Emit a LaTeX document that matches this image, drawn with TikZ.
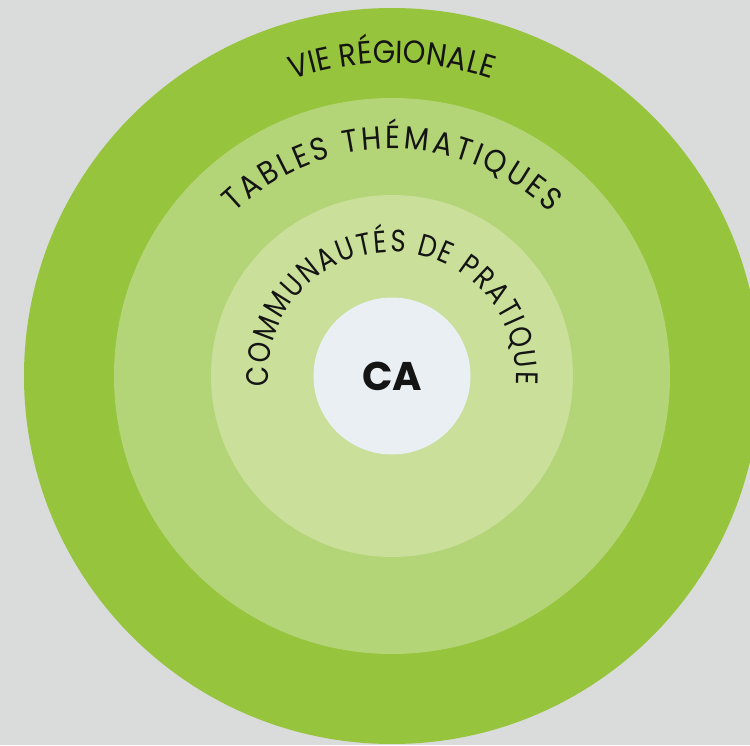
\documentclass[tikz,border=0pt]{standalone}
\usepackage{fontspec}
\setmainfont{Poppins}
\newfontfamily\ringfamily[FakeStretch=0.9]{Poppins}
\newfontfamily\commfamily[FakeStretch=0.84]{Poppins}
\usetikzlibrary{decorations.text}
\definecolor{bggrey}{HTML}{DADBDB}
\definecolor{vievert}{HTML}{97C43D}
\definecolor{tablevert}{HTML}{B3D477}
\definecolor{commvert}{HTML}{CAE09A}
\definecolor{cablanc}{HTML}{EAEFF3}
\definecolor{encre}{HTML}{141414}
\newcommand{\ringfont}{\ringfamily\fontsize{32}{34}\selectfont\color{encre}}
\newcommand{\commfont}{\commfamily\fontsize{31}{34}\selectfont\color{encre}}
\tikzstyle{ring}=[circle, draw=none, inner sep=0, outer sep=0]
\tikzset{ringtext/.style 2 args={decorate, decoration={text along path, text align=fit to path, text={|#1|#2}}}}

\begin{document}
\begin{tikzpicture}[x=1pt, y=1pt]
        \clip (-392, -369) rectangle (358, 376);
        \fill[bggrey] (-392, -369) rectangle (358, 376);
        % concentric rings
        \node[ring, fill=vievert, minimum size=736pt] (vie) at (0, 0) {};
        \node[ring, fill=tablevert, minimum size=556pt] (tables) at (0, 0) {};
        \node[ring, fill=commvert, minimum size=362pt] (comm) at (0, 0) {};
        \node[ring, fill=cablanc, minimum size=157pt] (centre) at (0, 0) {};
        \node[font=\bfseries\fontsize{40}{40}\selectfont, text=encre] (ca) at (centre) {CA};
        % curved labels
        \path[ringtext={\ringfont}{VIE RÉGIONALE}] (108.5:313) arc[start angle=108.5, end angle=71.5, radius=313];
        \path[ringtext={\ringfont}{TABLES THÉMATIQUES}] (134:227) arc[start angle=134, end angle=46, radius=227];
        \path[ringtext={\commfont}{COMMUNAUTÉS DE PRATIQUE}] (185:124) arc[start angle=185, end angle=-4, radius=124];
    \end{tikzpicture}
\end{document}
